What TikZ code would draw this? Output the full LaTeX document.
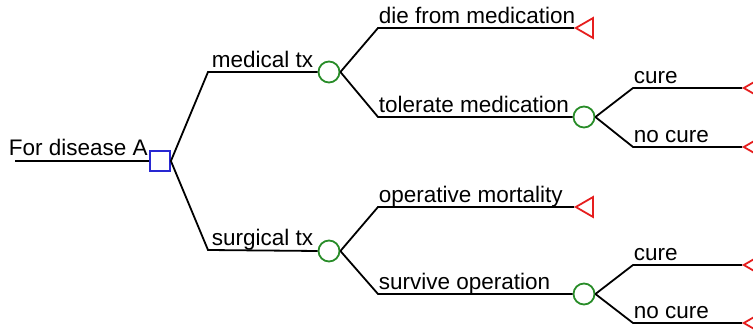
\documentclass[tikz,border=0pt]{standalone}
\usepackage{fontspec}
\setmainfont{Liberation Sans}
\usetikzlibrary{shapes.geometric}
\definecolor{decblue}{RGB}{40,40,210}
\definecolor{chgreen}{RGB}{40,140,40}
\definecolor{endred}{RGB}{230,30,30}

\begin{document}
\begin{tikzpicture}[x=0.5pt, y=-0.5pt, line width=0.9pt,
    font=\fontsize{11.25}{13}\selectfont,
    decision/.style={draw=decblue, rectangle, minimum size=10pt, inner sep=0pt},
    chance/.style={draw=chgreen, circle, minimum size=10.5pt, inner sep=0pt},
    terminal/.style={draw=endred, regular polygon, regular polygon sides=3,
        shape border rotate=90, minimum size=11.5pt, inner sep=0pt, anchor=corner 1},
    lbl/.style={pos=0, anchor=base west, inner sep=0pt, yshift=2pt}]
    \useasboundingbox (0, 0) rectangle (753, 335);

    % decision
    \coordinate (start) at (15, 161);
    \node (rootlbl) [anchor=base west, inner sep=0pt] at (8, 156) {For disease A};
    \node[decision] (dA) at (160, 161) {};

    % chance nodes
    \node[chance] (med) at (329, 72) {};
    \node[chance] (surg) at (329, 251) {};
    \node[chance] (tol) at (584, 117) {};
    \node[chance] (surv) at (584, 294) {};

    % terminals
    \node[terminal] (die) at (574, 28) {};
    \node[terminal] (opm) at (574, 207) {};
    \node[terminal] (medcure) at (742, 88) {};
    \node[terminal] (mednocure) at (742, 147) {};
    \node[terminal] (surgcure) at (742, 265) {};
    \node[terminal] (surgnocure) at (742, 323) {};

    % elbows
    \coordinate (kmed) at (208, 72);
    \coordinate (ksurg) at (208, 250);
    \coordinate (kdie) at (378, 28);
    \coordinate (ktol) at (378, 117);
    \coordinate (kopm) at (378, 207);
    \coordinate (ksurv) at (378, 294);
    \coordinate (kmedcure) at (633, 88);
    \coordinate (kmednocure) at (633, 147);
    \coordinate (ksurgcure) at (633, 265);
    \coordinate (ksurgnocure) at (633, 323);

    \draw (start) -- (dA.west);
    \draw (dA.east) -- (kmed) -- node[lbl, xshift=1.5pt] {medical tx} (med.west);
    \draw (dA.east) -- (ksurg) -- node[lbl, xshift=1.5pt] {surgical tx} (surg.west);
    \draw (med.east) -- (kdie) -- node[lbl] {die from medication} (die.corner 1);
    \draw (med.east) -- (ktol) -- node[lbl] {tolerate medication} (tol.west);
    \draw (surg.east) -- (kopm) -- node[lbl] {operative mortality} (opm.corner 1);
    \draw (surg.east) -- (ksurv) -- node[lbl] {survive operation} (surv.west);
    \draw (tol.east) -- (kmedcure) -- node[lbl] {cure} (medcure.corner 1);
    \draw (tol.east) -- (kmednocure) -- node[lbl] {no cure} (mednocure.corner 1);
    \draw (surv.east) -- (ksurgcure) -- node[lbl] {cure} (surgcure.corner 1);
    \draw (surv.east) -- (ksurgnocure) -- node[lbl] {no cure} (surgnocure.corner 1);
\end{tikzpicture}
\end{document}
